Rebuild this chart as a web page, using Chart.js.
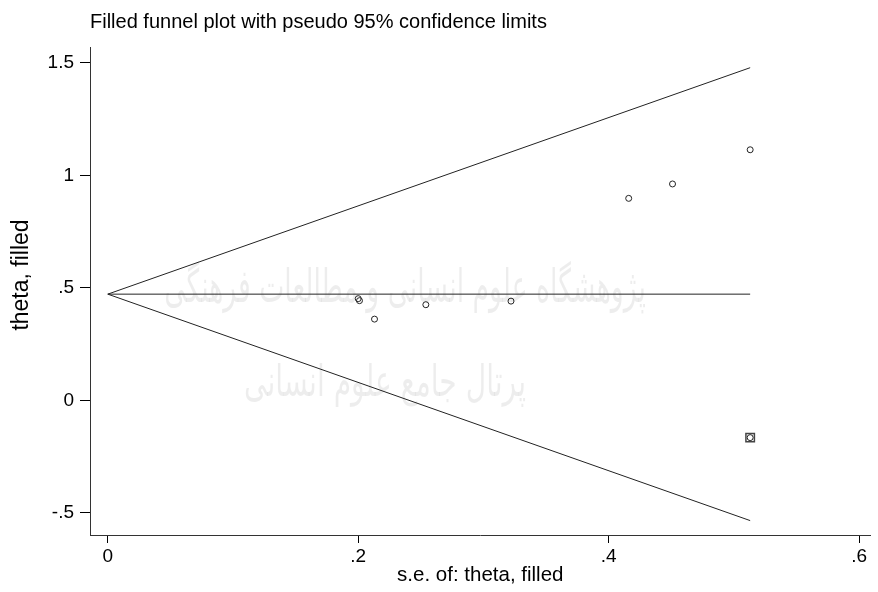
<!DOCTYPE html>
<html lang="en">
<head>
<meta charset="UTF-8">
<title>Filled funnel plot</title>
<script src="https://cdn.jsdelivr.net/npm/chart.js"></script>
<style>
    html, body { margin: 0; padding: 0; background: #fff; }
    #wrap { width: 878px; height: 592px; }
</style>
</head>
<body>
<div id="wrap"><canvas id="funnelChart" width="878" height="592"></canvas></div>
<script>
// studies: standard error vs effect (theta)
var seValues = [0.200, 0.201, 0.213, 0.254, 0.322, 0.416, 0.451, 0.513];
var thetaValues = [0.452, 0.443, 0.361, 0.425, 0.441, 0.898, 0.962, 1.114];

// imputed (filled) study
var filledSe = [0.513];
var filledTheta = [-0.166];

// pseudo 95% limits and pooled estimate, read at se = 0 and at the end
var limitSe = [0, 0.513];
var upperLimit = [0.472, 1.479];
var lowerLimit = [0.472, -0.535];
var pooledLine = [0.472, 0.472];

var xTicks = [0, 0.2, 0.4, 0.6];
var yTicks = [-0.5, 0, 0.5, 1, 1.5];

var yAxisTitle = 'theta, filled';
var fontFamily = '"Liberation Sans", Arial, sans-serif';

function toPoints(xs, ys) {
    return xs.map((x, i) => ({ x: x, y: ys[i] }));
}

function stataLabel(v) {
    var s = String(Math.round(v * 10) / 10);
    return s.replace(/^0\./, '.').replace(/^-0\./, '-.');
}

var lineStyle = {
    type: 'line',
    borderColor: '#222',
    borderWidth: 1,
    pointRadius: 0,
    fill: false,
    tension: 0
};

// faint background watermark text
var watermark = {
    id: 'watermark',
    beforeDatasetsDraw(chart) {
        var ctx = chart.ctx;
        ctx.save();
        ctx.fillStyle = 'rgba(0,0,0,0.07)';
        ctx.textAlign = 'center';
        ctx.textBaseline = 'middle';
        ctx.font = '46px "DejaVu Sans"';
        ctx.translate(405, 290);
        ctx.scale(0.58, 1);
        ctx.fillText('پژوهشگاه علوم انسانی و مطالعات فرهنگی', 0, 0);
        ctx.restore();
        ctx.save();
        ctx.fillStyle = 'rgba(0,0,0,0.07)';
        ctx.textAlign = 'center';
        ctx.textBaseline = 'middle';
        ctx.font = '44px "DejaVu Sans"';
        ctx.translate(385, 385);
        ctx.scale(0.64, 1);
        ctx.fillText('پرتال جامع علوم انسانی', 0, 0);
        ctx.restore();
    }
};

// y axis title sits a bit above the middle of the axis in the original
var yTitle = {
    id: 'yTitle',
    afterDraw(chart) {
        var ctx = chart.ctx;
        ctx.save();
        ctx.fillStyle = '#000';
        ctx.font = '23px ' + fontFamily;
        ctx.textAlign = 'center';
        ctx.textBaseline = 'middle';
        ctx.translate(22, 275);
        ctx.rotate(-Math.PI / 2);
        ctx.fillText(yAxisTitle, 0, 0);
        ctx.restore();
    }
};

var ctxFunnel = document.getElementById('funnelChart').getContext('2d');
var funnelChart = new Chart(ctxFunnel, {
    type: 'scatter',
    data: {
        datasets: [
            Object.assign({ data: toPoints(limitSe, upperLimit) }, lineStyle),
            Object.assign({ data: toPoints(limitSe, lowerLimit) }, lineStyle),
            Object.assign({ data: toPoints(limitSe, pooledLine) }, lineStyle),
            {
                data: toPoints(seValues, thetaValues),
                pointStyle: 'circle',
                pointRadius: 3,
                borderColor: '#222',
                borderWidth: 1,
                backgroundColor: 'rgba(255,255,255,0)'
            },
            {
                data: toPoints(filledSe, filledTheta),
                pointStyle: 'rect',
                pointRadius: 6,
                borderColor: '#444',
                borderWidth: 1.5,
                backgroundColor: 'rgba(255,255,255,0)'
            },
            {
                data: toPoints(filledSe, filledTheta),
                pointStyle: 'circle',
                pointRadius: 3,
                borderColor: '#222',
                borderWidth: 1,
                backgroundColor: 'rgba(255,255,255,0)'
            }
        ]
    },
    options: {
        responsive: false,
        animation: false,
        layout: { padding: 0 },
        plugins: {
            legend: { display: false },
            tooltip: { enabled: false },
            title: {
                display: true,
                text: 'Filled funnel plot with pseudo 95% confidence limits',
                align: 'start',
                fullSize: false,
                color: '#000',
                font: { family: fontFamily, size: 20, weight: 'normal' },
                padding: { top: 10, bottom: 13 }
            }
        },
        scales: {
            x: {
                type: 'linear',
                min: -0.0142,
                max: 0.6091,
                afterBuildTicks: function (scale) {
                    scale.ticks = xTicks.map(v => ({ value: v }));
                },
                afterFit: function (scale) { scale.height = 57; },
                ticks: {
                    color: '#000',
                    padding: 2,
                    maxRotation: 0,
                    font: { family: fontFamily, size: 19 },
                    callback: v => stataLabel(v)
                },
                grid: { drawOnChartArea: false, drawTicks: true, tickLength: 8, color: '#000' },
                border: { display: true, color: '#333', width: 1 },
                title: {
                    display: true,
                    text: 's.e. of: theta, filled',
                    color: '#000',
                    font: { family: fontFamily, size: 20.5 },
                    padding: { top: 4, bottom: 4 }
                }
            },
            y: {
                type: 'linear',
                min: -0.599,
                max: 1.571,
                afterBuildTicks: function (scale) {
                    scale.ticks = yTicks.map(v => ({ value: v }));
                },
                afterFit: function (scale) { scale.width = 90; },
                ticks: {
                    color: '#000',
                    padding: 6,
                    font: { family: fontFamily, size: 19 },
                    callback: v => stataLabel(v)
                },
                grid: { drawOnChartArea: false, drawTicks: true, tickLength: 10, color: '#000' },
                border: { display: true, color: '#333', width: 1 },
                title: { display: false }
            }
        }
    },
    plugins: [watermark, yTitle]
});
</script>
</body>
</html>
